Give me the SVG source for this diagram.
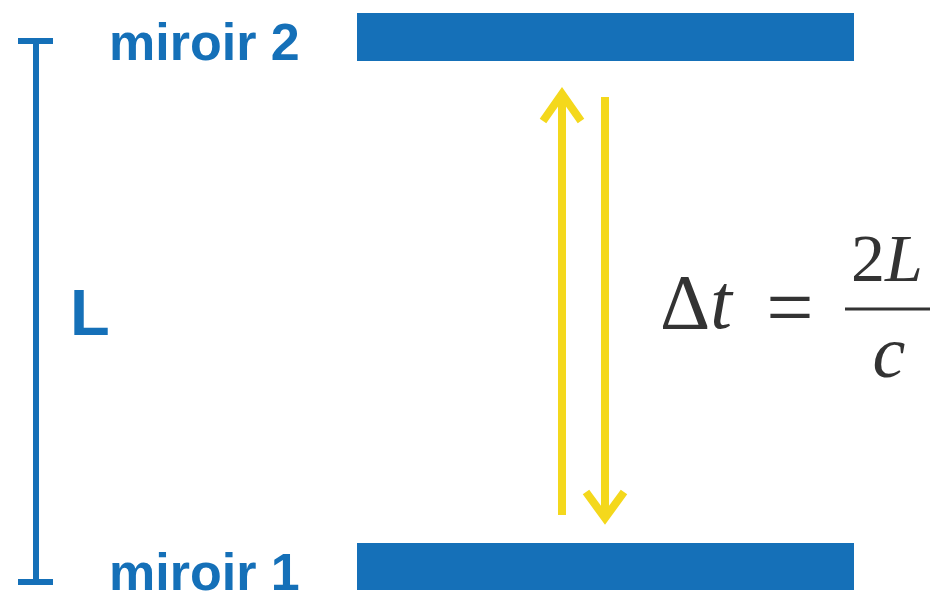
<svg xmlns="http://www.w3.org/2000/svg" width="944" height="601" viewBox="0 0 944 601">
<style>
.blue{fill:#1570B8}
.lbl{font-family:"Liberation Sans",Arial,sans-serif;font-weight:bold;fill:#1570B8}
.math{font-family:"Liberation Serif","Times New Roman",serif;fill:#333333}
.ray{stroke:#F4D81C;stroke-width:8;fill:none;stroke-linecap:butt;stroke-linejoin:miter}
.brk{stroke:#1570B8;stroke-width:6;fill:none}
</style>
<rect width="944" height="601" fill="#ffffff"/>
<g id="mirror2">
<rect class="blue" x="357" y="13" width="497" height="48"/>
<text class="lbl" x="109" y="60" font-size="52">miroir 2</text>
</g>
<g id="mirror1">
<rect class="blue" x="357" y="543" width="497" height="47"/>
<text class="lbl" x="109" y="590" font-size="52">miroir 1</text>
</g>
<g id="length">
<path class="brk" d="M18 41H53M36 41V582M18 582H53"/>
<text class="lbl" x="70" y="335" font-size="65">L</text>
</g>
<g id="connectors">
<path class="ray" d="M562 515V94M543 121L562 94L581 121"/>
<path class="ray" d="M605 97V518M586 492L605 518L624 492"/>
</g>
<g id="equation">
<text class="math" x="660" y="328" font-size="78">Δ<tspan font-style="italic">t</tspan></text>
<text class="math" x="790" y="336" font-size="84" text-anchor="middle">=</text>
<line x1="845" y1="309" x2="930" y2="309" stroke="#333333" stroke-width="3"/>
<text class="math" x="887" y="281" font-size="68" text-anchor="middle">2<tspan font-style="italic">L</tspan></text>
<text class="math" x="889" y="377" font-size="74" font-style="italic" text-anchor="middle">c</text>
</g>
</svg>
